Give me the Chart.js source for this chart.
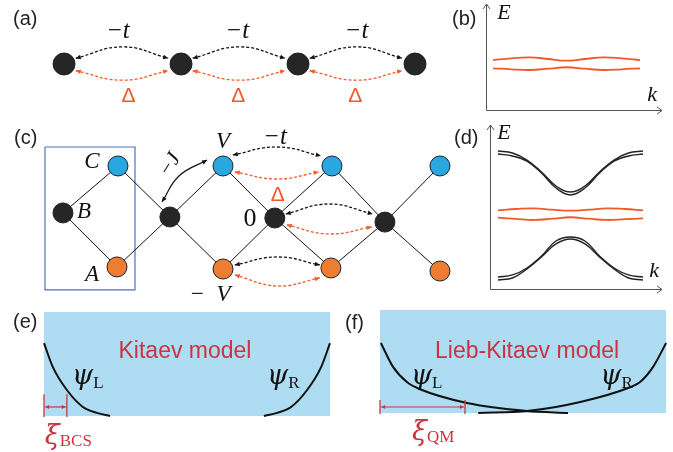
<!DOCTYPE html>
<html>
<head>
<meta charset="utf-8">
<script src="https://cdn.jsdelivr.net/npm/chart.js@4.4.1/dist/chart.umd.min.js"></script>
<style>
body { margin: 0; background: #fff; }
#wrap { position: relative; width: 673px; height: 452px; overflow: hidden; font-family: Arial, "Liberation Sans", sans-serif; }
.pan { position: absolute; }
.tag { position: absolute; font-size: 20px; line-height: 20px; color: #222; }
</style>
</head>
<body>
<div id="wrap">
  <div class="pan" style="left:30px;top:19px;width:420px;height:90px"><canvas id="ca"></canvas></div>
  <div class="pan" style="left:482px;top:0px;width:186px;height:116px"><canvas id="cb"></canvas></div>
  <div class="pan" style="left:20px;top:120px;width:445px;height:195px"><canvas id="cc"></canvas></div>
  <div class="pan" style="left:486px;top:121px;width:182px;height:173px"><canvas id="cd"></canvas></div>
  <div class="pan" style="left:40px;top:305px;width:300px;height:147px"><canvas id="ce"></canvas></div>
  <div class="pan" style="left:370px;top:303px;width:303px;height:149px"><canvas id="cf"></canvas></div>
  <div class="tag" style="left:13px;top:8px">(a)</div>
  <div class="tag" style="left:452px;top:8px">(b)</div>
  <div class="tag" style="left:14px;top:127px">(c)</div>
  <div class="tag" style="left:454px;top:127px">(d)</div>
  <div class="tag" style="left:13px;top:311px">(e)</div>
  <div class="tag" style="left:345px;top:312px">(f)</div>
</div>
<script>
// ---- (a) Kitaev chain: site index along the chain
var chainSites = [0, 1, 2, 3];
var hopLabelX = [0.46, 1.48, 2.50];
var pairLabelX = [0.55, 1.49, 2.49];

// ---- (b) / (d) spectra, k from 0 to 1
var kMaj = [0, 0.125, 0.25, 0.375, 0.5, 0.625, 0.75, 0.875, 1];
var majUpB = [0.063, 0.090, 0.106, 0.079, 0.052, 0.079, 0.106, 0.090, 0.063];
var majLoB = [-0.068, -0.084, -0.095, -0.075, -0.052, -0.075, -0.095, -0.084, -0.068];
var majUpD = [0.067, 0.087, 0.098, 0.076, 0.060, 0.076, 0.098, 0.087, 0.067];
var majLoD = [-0.051, -0.071, -0.087, -0.067, -0.044, -0.067, -0.087, -0.075, -0.062];
var kBand = [0, 0.1, 0.2, 0.3, 0.4, 0.5, 0.6, 0.7, 0.8, 0.9, 1];
var bandUp1 = [1.008, 0.976, 0.865, 0.675, 0.452, 0.357, 0.452, 0.675, 0.865, 0.976, 1.008];
var bandUp2 = [0.960, 0.929, 0.849, 0.659, 0.421, 0.310, 0.421, 0.659, 0.849, 0.929, 0.960];
var bandLo1 = [-0.992, -0.960, -0.849, -0.659, -0.421, -0.357, -0.421, -0.659, -0.849, -0.960, -0.992];
var bandLo2 = [-1.040, -1.008, -0.865, -0.675, -0.468, -0.389, -0.468, -0.675, -0.865, -1.008, -1.040];

// ---- (c) Lieb ladder: column / row of each site
var blackX = [0, 1.985, 3.933, 5.978];
var blackY = [0.08, 0, -0.02, -0.1];
var blueX = [1.021, 2.971, 4.994, 6.999];
var blueY = [1, 1, 1, 1];
var orangeX = [1.003, 2.971, 4.975, 6.999];
var orangeY = [-0.98, -1.02, -1.0, -1.06];

// ---- (e) / (f) edge wave functions across the wire (0..1)
var kitLx = [0, 0.031, 0.08, 0.136, 0.185, 0.231];
var kitLy = [0.70, 0.47, 0.25, 0.087, 0.03, 0];
var kitRx = [0.769, 0.815, 0.864, 0.92, 0.969, 1];
var kitRy = [0, 0.03, 0.087, 0.25, 0.47, 0.70];
var liebLx = [0.003, 0.045, 0.094, 0.14, 0.304, 0.514, 0.657];
var liebLy = [0.68, 0.45, 0.30, 0.23, 0.097, 0.019, 0];
var liebRx = [0.343, 0.514, 0.70, 0.874, 0.909, 0.955, 1.0];
var liebRy = [0, 0.019, 0.107, 0.25, 0.30, 0.45, 0.68];
var xiBCS = 0.080;
var xiQM = 0.297;

var BLACK = '#262626', BLUE = '#29A8E0', ORANGE = '#EE7D31', ARC = '#F05A28', RED = '#CC3340';
var MATH = 'italic 22px "Liberation Serif", "DejaVu Serif", serif';

function pts(xs, ys) {
  return xs.map(function (x, i) { return { x: x, y: ys[i] }; });
}

function arc(x0, y0, xm, ym, x1, y1, color, dash) {
  return {
    data: [{ x: x0, y: y0 }, { x: xm, y: ym }, { x: x1, y: y1 }],
    borderColor: color, borderWidth: dash ? 1.3 : 1.2, borderDash: dash ? [3, 2] : [],
    tension: 0.45, pointRadius: 0, arrows: 'both', order: 2, clip: false
  };
}

function curve(data, color, w, extra) {
  var d = { data: data, borderColor: color, borderWidth: w, pointRadius: 0, tension: 0.4, order: 2, clip: false };
  for (var k in extra) d[k] = extra[k];
  return d;
}

function nodes(data, fill, r) {
  return {
    data: data, showLine: false, pointRadius: r, pointBackgroundColor: fill,
    pointBorderColor: '#1b2230', pointBorderWidth: 1, order: 0, clip: false
  };
}

function head(ctx, x, y, dx, dy, color, len, wid) {
  var d = Math.hypot(dx, dy) || 1;
  dx /= d; dy /= d;
  ctx.beginPath();
  ctx.moveTo(x, y);
  ctx.lineTo(x - dx * len - dy * wid, y - dy * len + dx * wid);
  ctx.lineTo(x - dx * len + dy * wid, y - dy * len - dx * wid);
  ctx.closePath();
  ctx.fillStyle = color;
  ctx.fill();
}

// arrow heads at the ends of datasets flagged with "arrows"
var arrowPlugin = {
  id: 'arrowHeads',
  afterDatasetsDraw: function (chart) {
    var ctx = chart.ctx;
    chart.data.datasets.forEach(function (ds, i) {
      if (!ds.arrows) return;
      var p = chart.getDatasetMeta(i).data;
      var a = p[0], b = p[1], y = p[p.length - 1], z = p[p.length - 2];
      var len = ds.headLen || 5, wid = ds.headWid || 2.3;
      ctx.save();
      head(ctx, a.x, a.y, a.x - b.x, a.y - b.y, ds.borderColor, len, wid);
      head(ctx, y.x, y.y, y.x - z.x, y.y - z.y, ds.borderColor, len, wid);
      ctx.restore();
    });
  }
};

// text placed in data units
function labels(items) {
  return {
    id: 'txt',
    afterDatasetsDraw: function (chart) {
      var ctx = chart.ctx, xs = chart.scales.x, ys = chart.scales.y;
      items.forEach(function (it) {
        ctx.save();
        ctx.translate(xs.getPixelForValue(it.x), ys.getPixelForValue(it.y));
        if (it.rot) ctx.rotate(it.rot * Math.PI / 180);
        ctx.fillStyle = it.color || '#111';
        ctx.textBaseline = 'middle';
        ctx.textAlign = 'left';
        ctx.font = it.font;
        var w = ctx.measureText(it.t).width, sw = 0;
        if (it.sub) { ctx.font = it.subFont; sw = ctx.measureText(it.sub).width; }
        var x0 = it.left ? 0 : -(w + sw) / 2;
        ctx.font = it.font;
        ctx.fillText(it.t, x0, 0);
        if (it.sub) {
          ctx.font = it.subFont;
          ctx.fillText(it.sub, x0 + w + (it.gap || 0), it.dy || 6);
        }
        ctx.restore();
      });
    }
  };
}

// E-k axes with open arrow heads
var axisPlugin = {
  id: 'ekAxes',
  beforeDatasetsDraw: function (chart) {
    var c = chart.ctx, a = chart.chartArea;
    c.save();
    c.strokeStyle = '#555';
    c.lineWidth = 1;
    c.beginPath();
    c.moveTo(a.left + 0.5, a.top);
    c.lineTo(a.left + 0.5, a.bottom + 0.5);
    c.lineTo(a.right, a.bottom + 0.5);
    c.moveTo(a.left - 3, a.top + 5); c.lineTo(a.left + 0.5, a.top); c.lineTo(a.left + 4, a.top + 5);
    c.moveTo(a.right - 5, a.bottom - 3); c.lineTo(a.right, a.bottom + 0.5); c.lineTo(a.right - 5, a.bottom + 4);
    c.stroke();
    c.restore();
  }
};

function makeChart(id, datasets, xr, yr, plugins, pad) {
  return new Chart(document.getElementById(id), {
    type: 'line',
    data: { datasets: datasets },
    options: {
      responsive: true, maintainAspectRatio: false, animation: false, events: [],
      layout: { autoPadding: false, padding: pad || 0 },
      plugins: { legend: { display: false }, tooltip: { enabled: false } },
      scales: {
        x: { type: 'linear', min: xr[0], max: xr[1], display: false },
        y: { type: 'linear', min: yr[0], max: yr[1], display: false }
      }
    },
    plugins: plugins
  });
}

// ---------- (a)
var aSets = [nodes(chainSites.map(function (s) { return { x: s, y: 0 }; }), BLACK, 11)];
var aText = [];
for (var i = 0; i < chainSites.length - 1; i++) {
  var s = chainSites[i];
  aSets.push(arc(s + 0.1, 0.13, s + 0.5, 0.38, s + 0.89, 0.13, '#111', true));
  aSets.push(arc(s + 0.1, -0.15, s + 0.5, -0.36, s + 0.89, -0.15, ARC, true));
  aText.push({ x: hopLabelX[i], y: 0.73, t: '−t', font: 'italic 25px "Liberation Serif", serif' });
  aText.push({ x: pairLabelX[i], y: -0.71, t: 'Δ', font: '21px Arial, "Liberation Sans", sans-serif', color: ARC });
}
makeChart('ca', aSets, [-0.291, 3.299], [-1, 1], [arrowPlugin, labels(aText)]);

// ---------- (b)
makeChart('cb', [
  curve(pts(kMaj, majUpB), ARC, 1.8),
  curve(pts(kMaj, majLoB), ARC, 1.8)
], [-0.048, 1.150], [-0.730, 0.952], [axisPlugin, labels([
  { x: 0.075, y: 0.81, t: 'E', font: MATH },
  { x: 1.082, y: -0.49, t: 'k', font: MATH }
])], { left: 4, top: 4, right: 6, bottom: 6 });

// ---------- (c)
function zig(xs, ys) {
  var out = [];
  for (var j = 0; j < blackX.length; j++) {
    out.push({ x: blackX[j], y: blackY[j] });
    out.push({ x: xs[j], y: ys[j] });
  }
  return out;
}
var cSets = [
  nodes(pts(blackX, blackY), BLACK, 10),
  nodes(pts(blueX, blueY), BLUE, 10),
  nodes(pts(orangeX, orangeY), ORANGE, 10),
  curve(zig(blueX, blueY), '#111', 1, { tension: 0, order: 3 }),
  curve(zig(orangeX, orangeY), '#111', 1, { tension: 0, order: 3 }),
  curve([{ x: -0.334, y: 1.373 }, { x: 1.337, y: 1.373 }, { x: 1.337, y: -1.431 }, { x: -0.334, y: -1.431 }, { x: -0.334, y: 1.373 }],
    '#4A73C0', 1.2, { tension: 0, order: 4 }),
  arc(3.154, 1.216, 3.97, 1.373, 4.787, 1.2, '#111', true),
  arc(3.19, 0.882, 3.97, 0.745, 4.75, 0.882, ARC, true),
  arc(4.137, 0.059, 4.94, 0.255, 5.751, 0.059, '#111', true),
  arc(4.156, -0.157, 4.94, -0.333, 5.733, -0.196, ARC, true),
  arc(3.19, -0.941, 3.98, -0.784, 4.77, -0.941, '#111', true),
  arc(3.19, -1.137, 3.98, -1.353, 4.77, -1.196, ARC, true),
  arc(1.838, 0.294, 2.154, 0.804, 2.674, 1.118, '#111', false)
];
var serif = '"Liberation Serif", "DejaVu Serif", serif';
makeChart('cc', cSets, [-0.798, 7.464], [-1.922, 1.902], [arrowPlugin, labels([
  { x: 0.538, y: 1.08, t: 'C', font: 'italic 23px ' + serif },
  { x: 0.39, y: 0.10, t: 'B', font: 'italic 23px ' + serif },
  { x: 0.538, y: -1.137, t: 'A', font: 'italic 23px ' + serif },
  { x: 2.97, y: 1.47, t: 'V', font: 'italic 23px ' + serif },
  { x: 2.73, y: -1.53, t: '−  V', font: 'italic 23px ' + serif },
  { x: 3.472, y: -0.04, t: '0', font: '26px ' + serif },
  { x: 3.936, y: 1.569, t: '−t', font: 'italic 25px ' + serif },
  { x: 3.99, y: 0.43, t: 'Δ', font: '21px Arial, "Liberation Sans", sans-serif', color: ARC },
  { x: 1.987, y: 1.02, t: '−J', font: 'italic 21px ' + serif, rot: -58 }
])]);

// ---------- (d)
makeChart('cd', [
  curve(pts(kBand, bandUp1), '#222', 1.4),
  curve(pts(kBand, bandUp2), '#222', 1.4),
  curve(pts(kMaj, majUpD), ARC, 1.8),
  curve(pts(kMaj, majLoD), ARC, 1.8),
  curve(pts(kBand, bandLo1), '#222', 1.4),
  curve(pts(kBand, bandLo2), '#222', 1.4)
], [-0.055, 1.131], [-1.183, 1.421], [axisPlugin, labels([
  { x: 0.041, y: 1.294, t: 'E', font: MATH },
  { x: 1.076, y: -0.897, t: 'k', font: MATH }
])], { left: 4, top: 4, right: 6, bottom: 5 });

// ---------- (e) / (f)
var PSI = 'italic 27px "DejaVu Serif", serif';
var SUB = '17px "Liberation Serif", serif';
function wire(id, lx, ly, rx, ry, xi, xr, yr, title, xiPos, xiSub, psiL, psiR) {
  var sets = [
    curve([{ x: 0, y: 1 }, { x: 1, y: 1 }], '#AEDCF2', 0, { fill: { value: 0 }, backgroundColor: '#AEDCF2', tension: 0, order: 6 }),
    curve(pts(lx, ly), '#111', 2, { cubicInterpolationMode: 'monotone' }),
    curve(pts(rx, ry), '#111', 2, { cubicInterpolationMode: 'monotone' }),
    curve([{ x: 0, y: xiPos[1] }, { x: 0, y: -0.01 }], RED, 1.3, { tension: 0, order: 1 }),
    curve([{ x: xi, y: xiPos[1] }, { x: xi, y: -0.01 }], RED, 1.3, { tension: 0, order: 1 }),
    curve([{ x: 0.004, y: xiPos[0] }, { x: xi - 0.004, y: xiPos[0] }], RED, 1.2, { tension: 0, order: 1, arrows: 'both', headLen: 4, headWid: 2 })
  ];
  makeChart(id, sets, xr, yr, [arrowPlugin, labels([
    { x: title[0], y: title[1], t: title[2], font: '23px Arial, "Liberation Sans", sans-serif', color: RED },
    { x: psiL[0], y: psiL[1], t: 'ψ', sub: 'L', font: PSI, subFont: SUB, left: true, dy: 7 },
    { x: psiR[0], y: psiR[1], t: 'ψ', sub: 'R', font: PSI, subFont: SUB, left: true, dy: 7 },
    { x: xiPos[2], y: xiPos[3], t: 'ξ', sub: xiSub, font: 'italic 27px "DejaVu Serif", serif', subFont: SUB, color: RED, left: true, dy: 5 }
  ])]);
}
wire('ce', kitLx, kitLy, kitRx, kitRy, xiBCS, [-0.014, 1.035], [-0.346, 1.067],
  [0.493, 0.615, 'Kitaev model'], [0.087, 0.21, 0.003, -0.20], 'BCS', [0.098, 0.375], [0.78, 0.375]);
wire('cf', liebLx, liebLy, liebRx, liebRy, xiQM, [-0.035, 1.024], [-0.379, 1.068],
  [0.514, 0.592, 'Lieb-Kitaev model'], [0.058, 0.126, 0.112, -0.194], 'QM', [0.108, 0.35], [0.77, 0.35]);
</script>
</body>
</html>
